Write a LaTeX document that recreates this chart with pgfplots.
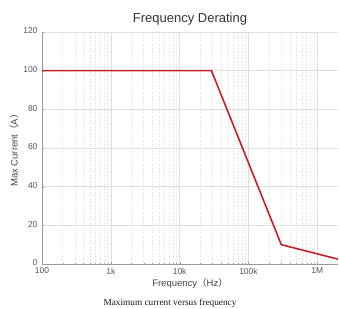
\documentclass[border=0pt]{standalone}
\usepackage{pgfplots}
\pgfplotsset{compat=1.18}
\usepackage{fontspec}
\setmainfont{Liberation Sans}
\newfontfamily\seriffont{Liberation Serif}
\newfontfamily\cjk{Noto Sans CJK SC}
\definecolor{linered}{RGB}{196,32,38}
\definecolor{txtgrey}{RGB}{85,85,85}
\definecolor{gridgrey}{RGB}{222,222,222}
\begin{document}
\begin{tikzpicture}
\useasboundingbox (-42pt,-44pt) rectangle (297pt,264pt);
\begin{axis}[
  xmode=log,
  scale only axis,
  width=296pt, height=232pt,
  at={(0,0)}, anchor=south west,
  xmin=100, xmax=2e6,
  ymin=0, ymax=120,
  ytick={0,20,40,60,80,100,120},
  xtick={100,1000,10000,100000,1000000},
  xticklabels={100,1k,10k,100k,1M},
  axis x line*=bottom,
  axis y line*=left,
  axis line style={color=gray!80, line width=0.6pt},
  every outer x axis line/.append style={-},
  every outer y axis line/.append style={-},
  tick style={color=gray!80},
  major tick length=2pt,
  minor tick length=1.5pt,
  tick align=inside,
  grid=both,
  major grid style={color=gridgrey, line width=0.5pt},
  minor grid style={color=gridgrey, dotted, line width=0.5pt},
  ymajorgrids=true,
  yminorgrids=false,
  xmajorgrids=true,
  xminorgrids=true,
  ticklabel style={font=\fontsize{8.5}{9}\selectfont, color=txtgrey},
  xticklabel style={yshift=-0.5pt},
  yticklabel style={xshift=-1pt, yshift=1pt},
  /pgf/number format/assume math mode=true,
  xlabel={Frequency{\cjk （}Hz{\cjk ）}},
  ylabel={Max Current{\cjk （}A{\cjk ）}},
  label style={font=\fontsize{9.5}{10}\selectfont, color=txtgrey!80!black},
  xlabel style={yshift=3pt},
  ylabel style={yshift=-2pt},
  title={Frequency Derating},
  title style={font=\fontsize{13}{14}\selectfont, color=black!80, yshift=-3pt},
  clip=false,
]
\addplot[color=linered, line width=1.6pt] coordinates {
  (100,100) (29000,100) (300000,10) (2000000,2.5)
};
\end{axis}
\node[font=\seriffont\fontsize{9.3}{10}\selectfont, color=black!90] at (128pt,-39pt) {Maximum current versus frequency};
\end{tikzpicture}
\end{document}
